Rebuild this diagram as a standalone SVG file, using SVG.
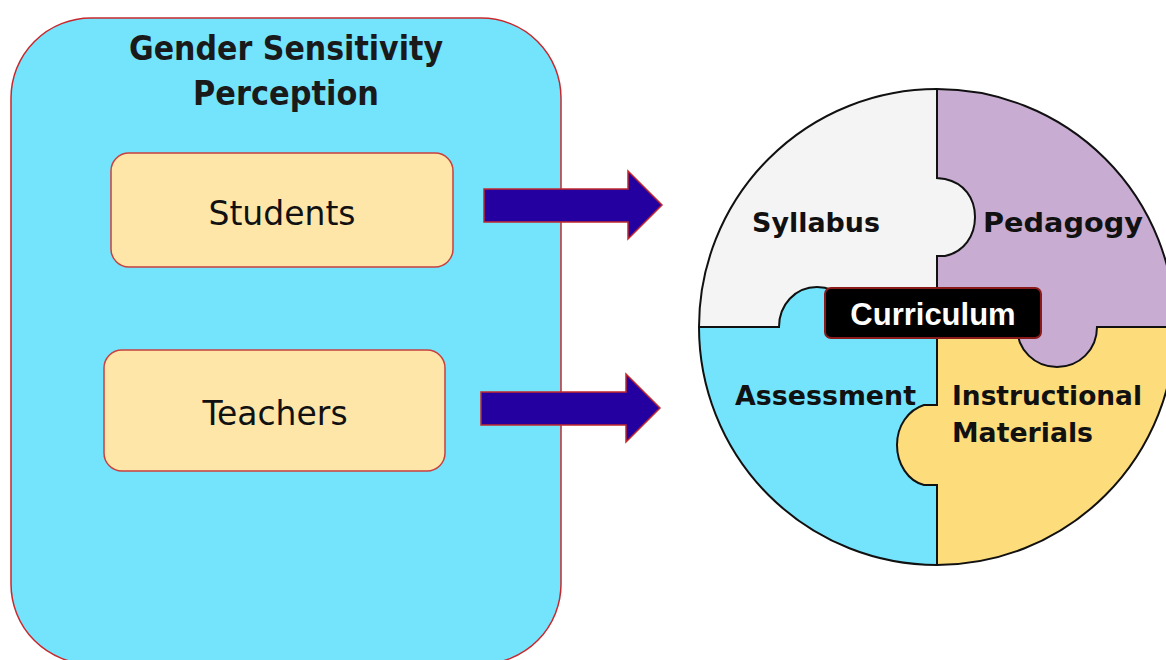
<svg xmlns="http://www.w3.org/2000/svg" width="1166" height="660" viewBox="0 0 1166 660">
  <style>
    .title { font-family: "DejaVu Sans", "Liberation Sans", sans-serif; font-weight: bold; font-size: 33px; fill: #1a1a1a; text-anchor: middle; }
    .member { font-family: "DejaVu Sans", "Liberation Sans", sans-serif; font-size: 33px; fill: #111; text-anchor: middle; }
    .piece-label { font-family: "DejaVu Sans", "Liberation Sans", sans-serif; font-weight: bold; font-size: 27px; fill: #111; }
    .member-box { fill: #FDE6A8; stroke: #C8403F; stroke-width: 1.5; }
    .arrow { fill: #2400A0; stroke: #C0282D; stroke-width: 1.5; stroke-linejoin: miter; }
    .divider { fill: none; stroke: #111; stroke-width: 2; }
  </style>
  <defs>
    <clipPath id="disc">
      <circle cx="937" cy="327" r="238"/>
    </clipPath>
  </defs>

  <rect width="1166" height="660" fill="#ffffff"/>

  <!-- container: perception -->
  <g id="perception">
    <rect x="11" y="18" width="550" height="646" rx="80" ry="80" fill="#74E4FD" stroke="#C8282D" stroke-width="1.5"/>
    <text class="title" x="286" y="60" textLength="314" lengthAdjust="spacingAndGlyphs">Gender Sensitivity</text>
    <text class="title" x="286" y="105" textLength="186" lengthAdjust="spacingAndGlyphs">Perception</text>
  </g>

  <g id="students">
    <rect class="member-box" x="111" y="153" width="342" height="114" rx="18" ry="18"/>
    <text class="member" x="282" y="225">Students</text>
  </g>

  <g id="teachers">
    <rect class="member-box" x="104" y="350" width="341" height="121" rx="18" ry="18"/>
    <text class="member" x="275" y="425">Teachers</text>
  </g>

  <!-- connectors: block arrows toward the curriculum puzzle -->
  <g id="connectors">
    <polygon class="arrow" points="484,189 628,189 628,171 662,205 628,239 628,222 484,222"/>
    <polygon class="arrow" points="481,392 626,392 626,374 660,408 626,442 626,425 481,425"/>
  </g>

  <!-- curriculum puzzle: four interlocking quarters -->
  <g id="curriculum">
    <g clip-path="url(#disc)">
      <path id="syllabus-piece" fill="#F4F4F4"
        d="M 690 80 L 937 80 L 937 178 L 945 179 C 964 183 975 198 975 217 C 975 236 964 252 945 256 L 937 256 L 937 327 L 855 327 C 855 305 839 287 817 287 C 795 287 779 305 779 327 L 690 327 Z"/>
      <path id="pedagogy-piece" fill="#C8ACD2"
        d="M 937 80 L 1180 80 L 1180 327 L 1097 327 C 1097 350 1079 367 1057 367 C 1035 367 1017 350 1017 327 L 937 327 L 937 256 L 945 256 C 964 252 975 236 975 217 C 975 198 964 183 945 179 L 937 178 Z"/>
      <path id="assessment-piece" fill="#74E4FD"
        d="M 690 327 L 779 327 C 779 305 795 287 817 287 C 839 287 855 305 855 327 L 937 327 L 937 405 L 924 405 C 908 410 897 426 897 445 C 897 464 908 481 924 485 L 937 485 L 937 570 L 690 570 Z"/>
      <path id="instructional-piece" fill="#FDDC7C"
        d="M 937 327 L 1017 327 C 1017 350 1035 367 1057 367 C 1079 367 1097 350 1097 327 L 1180 327 L 1180 570 L 937 570 L 937 485 L 924 485 C 908 481 897 464 897 445 C 897 426 908 410 924 405 L 937 405 Z"/>
      <path class="divider"
        d="M 937 80 L 937 178 L 945 179 C 964 183 975 198 975 217 C 975 236 964 252 945 256 L 937 256 L 937 405 L 924 405 C 908 410 897 426 897 445 C 897 464 908 481 924 485 L 937 485 L 937 570
           M 690 327 L 779 327 C 779 305 795 287 817 287 C 839 287 855 305 855 327 L 1017 327 C 1017 350 1035 367 1057 367 C 1079 367 1097 350 1097 327 L 1180 327"/>
    </g>
    <circle cx="937" cy="327" r="238" fill="none" stroke="#111" stroke-width="2"/>

    <text class="piece-label" x="752" y="232" textLength="128" lengthAdjust="spacingAndGlyphs">Syllabus</text>
    <text class="piece-label" x="983" y="232" textLength="160" lengthAdjust="spacingAndGlyphs">Pedagogy</text>
    <text class="piece-label" x="735" y="405" textLength="181" lengthAdjust="spacingAndGlyphs">Assessment</text>
    <text class="piece-label" x="952" y="405" textLength="190" lengthAdjust="spacingAndGlyphs">Instructional</text>
    <text class="piece-label" x="952" y="442" textLength="141" lengthAdjust="spacingAndGlyphs">Materials</text>

    <rect x="825" y="288" width="216" height="50" rx="6" ry="6" fill="#000" stroke="#8B1A1A" stroke-width="2"/>
    <text x="933" y="325" text-anchor="middle" font-family="'Liberation Sans', Arial, sans-serif" font-weight="bold" font-size="31" fill="#ffffff">Curriculum</text>
  </g>
</svg>
